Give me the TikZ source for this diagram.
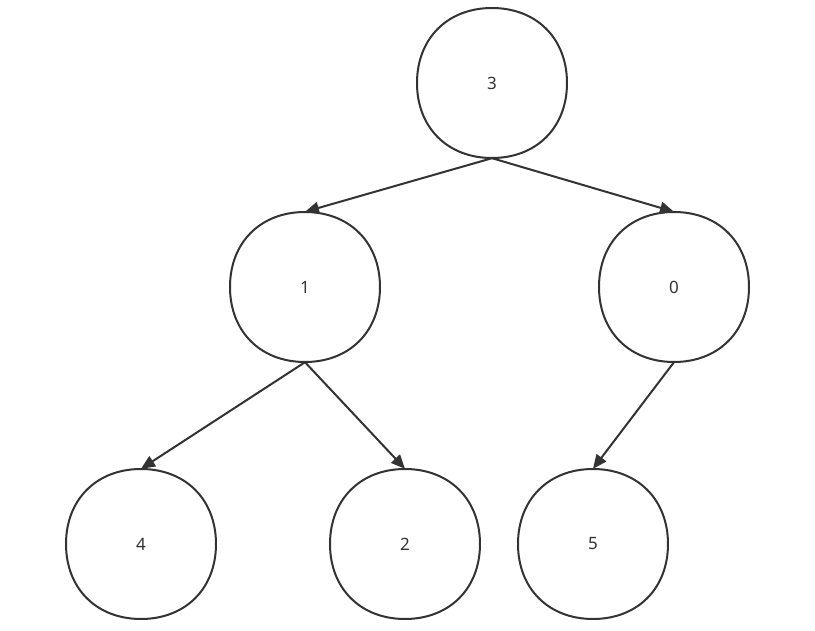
\documentclass[tikz,border=0pt]{standalone}
\usepackage{fontspec}
\setmainfont{Noto Sans}
\usetikzlibrary{arrows.meta}
\definecolor{ink}{HTML}{333333}
\begin{document}
\begin{tikzpicture}[x=1pt,y=-1pt,
  tnode/.style={circle,minimum size=150pt,inner sep=0pt,text=ink,font=\fontsize{17}{19}\selectfont},
  outline/.style={draw=ink,line width=2pt},
  edge/.style={draw=ink,line width=2pt,-{Triangle[length=14pt,width=12pt]}}]
\useasboundingbox (0,0) rectangle (815,631);
\node[tnode] (n3) at (492,83) {3};
\node[tnode] (n1) at (305,287) {1};
\node[tnode] (n0) at (674,287) {0};
\node[tnode] (n4) at (141,544) {4};
\node[tnode] (n2) at (405,544) {2};
\node[tnode] (n5) at (593,544) {5};
\foreach \n in {n3,n1,n0,n4,n2,n5}{
  \draw[outline,shift={(\n.center)}] (75,0) .. controls (75,44.5) and (44.5,75) .. (0,75)
    .. controls (-44.5,75) and (-75,44.5) .. (-75,0)
    .. controls (-75,-44.5) and (-44.5,-75) .. (0,-75)
    .. controls (44.5,-75) and (75,-44.5) .. (75,0) -- cycle;
}
\draw[edge] (n3.south) -- (n1.north);
\draw[edge] (n3.south) -- (n0.north);
\draw[edge] (n1.south) -- (n4.north);
\draw[edge] (n1.south) -- (n2.north);
\draw[edge] (n0.south) -- (n5.north);
\end{tikzpicture}
\end{document}
